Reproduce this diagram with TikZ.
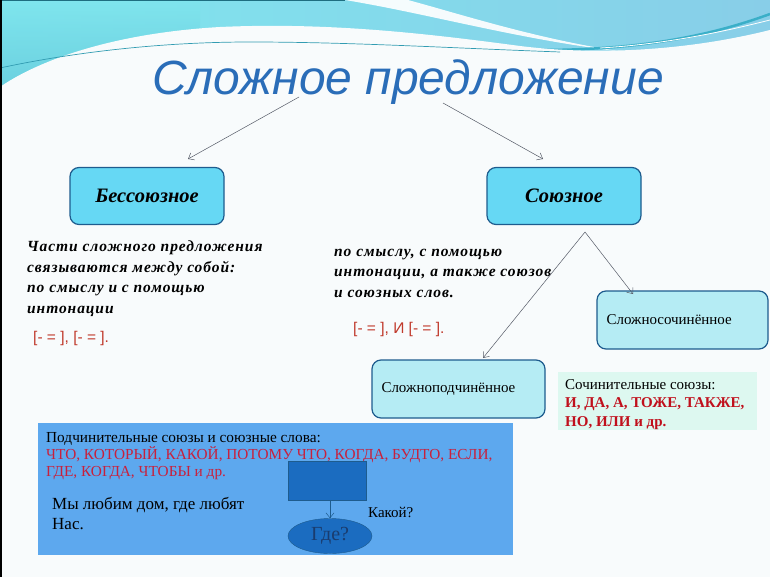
\documentclass[tikz,border=0pt]{standalone}
\usepackage{fontspec}
\setmainfont{Liberation Serif}
\newfontfamily\titlefont{Liberation Sans}
\newfontfamily\spacedfont[LetterSpace=6]{Liberation Serif}
\usetikzlibrary{shapes.geometric,arrows.meta}
\definecolor{bgc}{HTML}{F8FBFC}
\definecolor{wavea}{HTML}{7FE6EE}
\definecolor{waveb}{HTML}{88CEE8}
\definecolor{wavec}{HTML}{5CC0D4}
\definecolor{teal}{HTML}{3AAFC8}
\definecolor{darkteal}{HTML}{1E6E80}
\definecolor{titleblue}{HTML}{2A6DB8}
\definecolor{boxcyan}{HTML}{66D8F4}
\definecolor{boxedge}{HTML}{1E5C8E}
\definecolor{lightcyan}{HTML}{B5ECF4}
\definecolor{mint}{HTML}{DDF8F0}
\definecolor{redtxt}{HTML}{C0392B}
\definecolor{darkred}{HTML}{C0101C}
\definecolor{crimson}{HTML}{C8203C}
\definecolor{panelblue}{HTML}{5DA8EE}
\definecolor{darkblue}{HTML}{1B6CC0}
\definecolor{navytext}{HTML}{1A3C6E}
\definecolor{arrowgray}{HTML}{555A66}
\tikzset{
  mainbox/.style={draw=boxedge, line width=1.2pt, fill=boxcyan, rounded corners=9pt,
    minimum width=154pt, minimum height=57pt, font=\bfseries\itshape\fontsize{20.5}{24}\selectfont},
  subbox/.style={draw=boxedge, line width=1.2pt, fill=lightcyan, rounded corners=9pt,
    minimum height=58pt, font=\fontsize{15}{17}\selectfont, align=left, inner xsep=9.5pt},
  conn/.style={draw=arrowgray, line width=0.5pt, -{Straight Barb[length=5pt,width=8pt]}},
  bodytext/.style={font=\spacedfont\bfseries\itshape\fontsize{15.5}{20.4}\selectfont, align=left, anchor=north west, inner sep=0pt},
  formula/.style={text=redtxt, font=\titlefont\fontsize{15.5}{18}\selectfont, anchor=west, inner sep=0pt},
  plain/.style={font=\fontsize{15}{18.5}\selectfont, align=left, anchor=north west, inner sep=0pt},
}
\begin{document}
\begin{tikzpicture}[x=1pt,y=-1pt]
\useasboundingbox (0,0) rectangle (770,577);
% top waves
\shade[left color=wavea, right color=waveb] (0,0) rectangle (770,110);
\shade[top color=wavea, bottom color=wavec, opacity=0.7] (0,0) rectangle (200,110);
\fill[white, opacity=0.92] (345,0) .. controls (430,14) and (520,40) .. (625,52)
  .. controls (540,40) and (460,14) .. (408,0) -- cycle;
\draw[teal, line width=2.5pt] (540,50) .. controls (640,50) and (710,36) .. (770,14);
\draw[white, line width=0.8pt] (600,48) .. controls (670,44) and (730,30) .. (770,20);
\fill[bgc] (0,87) .. controls (30,66) and (100,34) .. (220,27)
  .. controls (330,22) and (430,34) .. (520,46)
  .. controls (600,56) and (690,50) .. (770,30) -- (770,577) -- (0,577) -- cycle;
\draw[teal!70!darkteal, line width=0.7pt] (0,68) .. controls (60,55) and (150,42) .. (250,42)
  .. controls (350,42) and (450,48) .. (560,52);
\draw[darkteal, line width=1pt] (0,0.5) -- (345,0.5);
\draw[black, line width=1.5pt] (0.75,0) -- (0.75,577);

% title
\node[text=titleblue, font=\titlefont\itshape\fontsize{48}{52}\selectfont] (title) at (408,82) {Сложное предложение};

% main boxes
\node[mainbox] (bes) at (147,196) {Бессоюзное};
\node[mainbox] (soy) at (564,196) {Союзное};

\coordinate (tl) at (299,97);
\coordinate (tr) at (443,103);
\draw[conn] (tl) -- (188,159);
\draw[conn] (tr) -- (543,159);

% left text
\node[bodytext] (ltext) at (27,241) {Части сложного предложения\\связываются между собой:\\по смыслу и с помощью\\интонации};
\node[formula] (lform) at (33,338) {[- = ], [- = ].};

% right text
\node[bodytext] (rtext) at (334,249) {по смыслу, с помощью\\интонации, а также союзов\\и союзных слов.};
\node[formula] (rform) at (353,329) {[- = ], И [- = ].};

% sub boxes
\node[subbox, minimum width=171pt, text width=152pt] (soch) at (682.5,320) {Сложносочинённое};
\node[subbox, minimum width=173pt, text width=154pt] (podch) at (458.5,389) {Сложноподчинённое};

\coordinate (sf) at (585,232);
\draw[conn] (sf) -- (483,358);
\draw[conn] (sf) -- (633,294);

% green box
\node[fill=mint, minimum width=199pt, minimum height=58pt, anchor=north west, inner sep=0pt] (green) at (558,372) {};
\node[plain, text=black] (greent) at (565,379) {Сочинительные союзы:\\
  \textcolor{darkred}{\bfseries И, ДА, А, ТОЖЕ, ТАКЖЕ,}\\
  \textcolor{darkred}{\bfseries НО, ИЛИ и др.}};

% blue panel
\node[fill=panelblue, minimum width=475pt, minimum height=132pt, anchor=north west, inner sep=0pt] (panel) at (38,423) {};
\node[plain, font=\fontsize{15.3}{17}\selectfont] (panelt) at (46,432) {Подчинительные союзы и союзные слова:\\
  \textcolor{crimson}{ЧТО, КОТОРЫЙ, КАКОЙ, ПОТОМУ ЧТО, КОГДА, БУДТО, ЕСЛИ,}\\
  \textcolor{crimson}{ГДЕ, КОГДА, ЧТОБЫ и др.}};
\node[plain, font=\fontsize{17}{20}\selectfont] (example) at (52,497) {Мы любим дом, где любят\\Нас.};
\node[draw=boxedge, fill=darkblue, minimum width=78pt, minimum height=39pt, inner sep=0pt] (rect) at (327,480.5) {};
\node[ellipse, draw=boxedge, fill=darkblue, minimum width=84pt, minimum height=35pt, inner sep=0pt,
  font=\fontsize{20}{22}\selectfont, text=navytext] (where) at (330,536) {Где?};
\draw[conn, draw=boxedge] (rect.south -| where) -- (where.north);
\node[plain] (which) at (368,507) {Какой?};
\end{tikzpicture}
\end{document}
